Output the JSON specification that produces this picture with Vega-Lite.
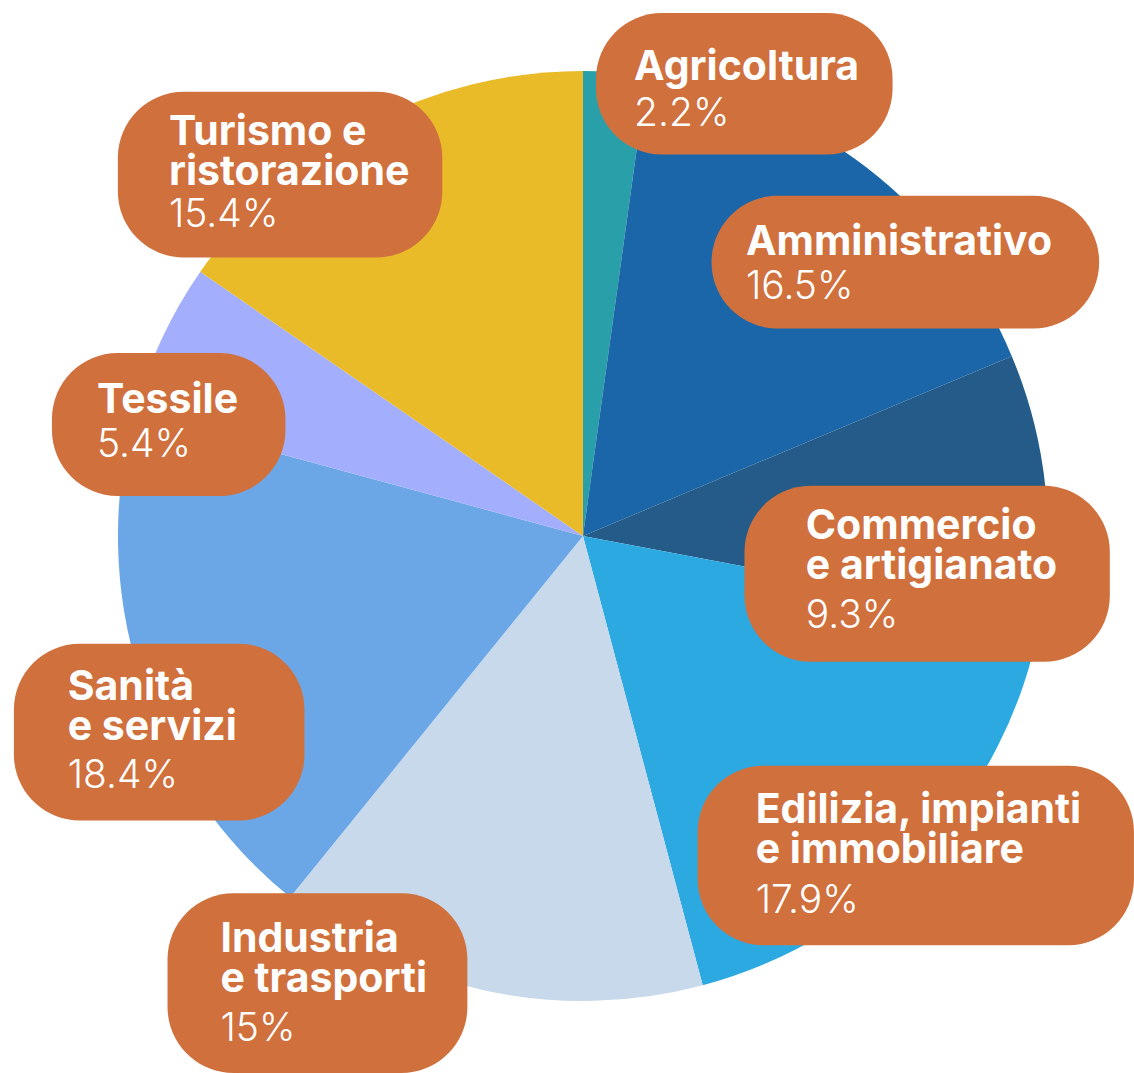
{
  "$schema": "https://vega.github.io/schema/vega-lite/v6.json",
  "width": 1134,
  "height": 1073,
  "autosize": {"type": "fit", "contains": "padding"},
  "padding": 0,
  "background": "white",
  "config": {"view": {"stroke": null}},
  "data": {
    "values": [
      {"idx": 1, "sector": "Agricoltura", "name": "Agricoltura", "share": 0.022, "bx": 2.8, "bx2": 66.7, "by": 112.7, "by2": 82.2, "tx": 11.0, "ty": 98.3, "py": 88.4},
      {"idx": 2, "sector": "Amministrativo", "name": "Amministrativo", "share": 0.165, "bx": 27.7, "bx2": 111.2, "by": 73.3, "by2": 44.7, "tx": 35.1, "ty": 60.6, "py": 51.0},
      {"idx": 3, "sector": "Commercio e artigianato", "name": "Commercio\ne artigianato", "share": 0.093, "bx": 34.8, "bx2": 113.5, "by": 10.8, "by2": -27.1, "tx": 48.0, "ty": -0.6, "py": -19.8},
      {"idx": 4, "sector": "Edilizia, impianti e immobiliare", "name": "Edilizia, impianti\ne immobiliare", "share": 0.179, "bx": 24.7, "bx2": 118.7, "by": -49.5, "by2": -88.2, "tx": 37.2, "ty": -61.9, "py": -81.3},
      {"idx": 5, "sector": "Industria e trasporti", "name": "Industria\ne trasporti", "share": 0.15, "bx": -89.5, "bx2": -24.9, "by": -77.0, "by2": -115.7, "tx": -78.1, "ty": -89.7, "py": -108.8},
      {"idx": 6, "sector": "Sanità e servizi", "name": "Sanità\ne servizi", "share": 0.184, "bx": -122.6, "bx2": -60.0, "by": -23.2, "by2": -61.3, "tx": -111.0, "ty": -35.3, "py": -54.2},
      {"idx": 7, "sector": "Tessile", "name": "Tessile", "share": 0.054, "bx": -114.4, "bx2": -64.1, "by": 39.4, "by2": 8.6, "tx": -104.7, "ty": 26.5, "py": 17.0},
      {"idx": 8, "sector": "Turismo e ristorazione", "name": "Turismo e\nristorazione", "share": 0.154, "bx": -100.2, "bx2": -30.3, "by": 95.7, "by2": 60.0, "tx": -89.2, "ty": 84.3, "py": 66.5}
    ]
  },
  "layer": [
    {
      "mark": {"type": "arc", "outerRadius": 465, "stroke": null},
      "encoding": {
        "x": {"datum": 0, "type": "quantitative", "scale": {"domain": [-125.59, 118.28], "nice": false, "zero": false}, "axis": null},
        "y": {"datum": 0, "type": "quantitative", "scale": {"domain": [-115.27, 115.48], "nice": false, "zero": false}, "axis": null},
        "theta": {"field": "share", "type": "quantitative", "stack": true},
        "order": {"field": "idx", "type": "quantitative"},
        "color": {
          "field": "sector",
          "type": "nominal",
          "legend": null,
          "scale": {
            "domain": ["Agricoltura", "Amministrativo", "Commercio e artigianato", "Edilizia, impianti e immobiliare", "Industria e trasporti", "Sanità e servizi", "Tessile", "Turismo e ristorazione"],
            "range": ["#29a0a9", "#1b66a8", "#245b89", "#2da9e1", "#c7d9ea", "#6ba7e6", "#a3affc", "#e9bb29"]
          }
        }
      }
    },
    {
      "mark": {"type": "rect", "cornerRadius": 66, "color": "#d0703d"},
      "encoding": {
        "x": {"field": "bx", "type": "quantitative"},
        "x2": {"field": "bx2"},
        "y": {"field": "by", "type": "quantitative"},
        "y2": {"field": "by2"}
      }
    },
    {
      "mark": {"type": "text", "font": "Inter", "fontWeight": 700, "fontSize": 41, "lineHeight": 40, "lineBreak": "\n", "align": "left", "baseline": "alphabetic", "color": "white"},
      "encoding": {
        "x": {"field": "tx", "type": "quantitative"},
        "y": {"field": "ty", "type": "quantitative"},
        "text": {"field": "name", "type": "nominal"}
      }
    },
    {
      "mark": {"type": "text", "font": "Inter", "fontWeight": 300, "fontSize": 39, "align": "left", "baseline": "alphabetic", "color": "white"},
      "encoding": {
        "x": {"field": "tx", "type": "quantitative"},
        "y": {"field": "py", "type": "quantitative"},
        "text": {"field": "share", "type": "quantitative", "format": ".1~%"}
      }
    }
  ]
}
